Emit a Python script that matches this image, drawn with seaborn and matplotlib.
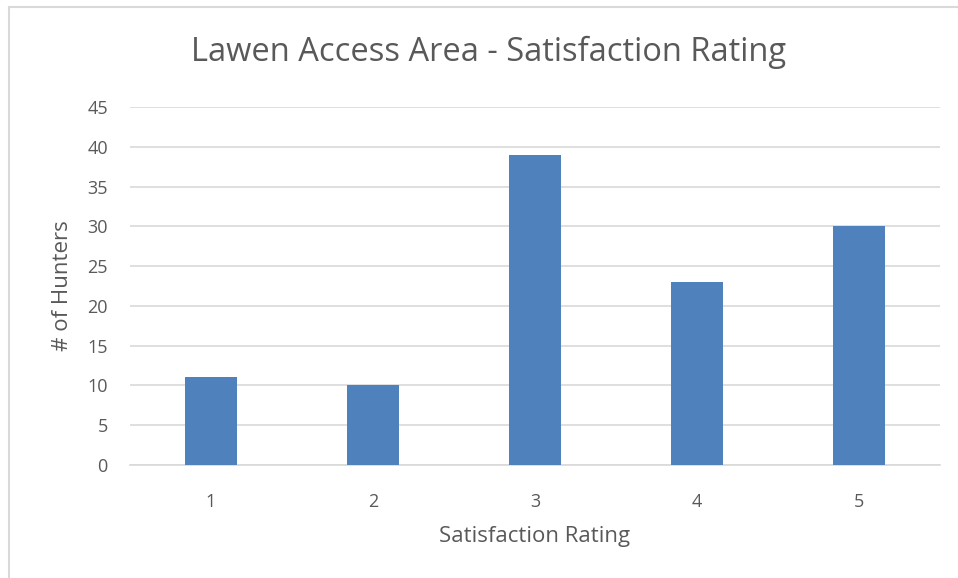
import matplotlib.pyplot as plt
import matplotlib.patches as mpatches
import pandas as pd
import seaborn as sns

ratings = ["1", "2", "3", "4", "5"]
hunters = [11, 10, 39, 23, 30]
y_ticks = [0, 5, 10, 15, 20, 25, 30, 35, 40, 45]

df = pd.DataFrame({"rating": ratings, "hunters": hunters})

sns.set_theme(style="white")
plt.rcParams["font.family"] = ["Open Sans", "DejaVu Sans"]
text_color = "#595959"

fig = plt.figure(figsize=(9.58, 5.78), dpi=100)
ax = fig.add_axes([130 / 958, 1 - 465 / 578, 810 / 958, 358 / 578])

sns.barplot(data=df, x="rating", y="hunters", color="#4F81BD", saturation=1,
            width=0.315, linewidth=0, ax=ax, zorder=3)

ax.set_ylim(0, 45)
ax.set_yticks(y_ticks)
ax.set_xlim(-0.5, 4.5)
ax.yaxis.grid(True, color="#D9D9D9", linewidth=1.2, zorder=0)
ax.set_axisbelow(True)
for side in ["top", "right", "left"]:
    ax.spines[side].set_visible(False)
ax.spines["bottom"].set_color("#D9D9D9")
ax.spines["bottom"].set_linewidth(1.2)
ax.tick_params(axis="both", length=0, labelsize=13, labelcolor=text_color)
ax.tick_params(axis="x", pad=20)
ax.tick_params(axis="y", pad=16)

ax.set_xlabel("Satisfaction Rating", fontsize=16, color=text_color, labelpad=11)
ax.set_ylabel("# of Hunters", fontsize=16, color=text_color, labelpad=10)
fig.text(489 / 958, 1 - 52 / 578, "Lawen Access Area - Satisfaction Rating",
         ha="center", va="center", fontsize=23.5, color=text_color)

# chart frame (left/top edges visible)
fig.patches.append(mpatches.Rectangle((8.5 / 958, -0.1), 1.2, (1 - 7.5 / 578) + 0.1,
                                      transform=fig.transFigure, fill=False,
                                      edgecolor="#D9D9D9", linewidth=1.5))

fig.savefig("out.png", dpi=100)
plt.close(fig)
